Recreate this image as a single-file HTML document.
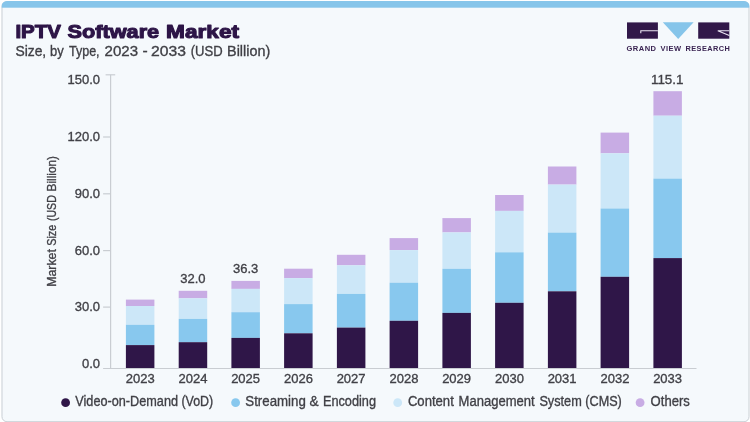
<!DOCTYPE html>
<html lang="en"><head><meta charset="utf-8"><title>IPTV Software Market</title>
<style>
html,body{margin:0;padding:0;background:#fff;}
body{width:750px;height:422px;overflow:hidden;font-family:"Liberation Sans",sans-serif;}
svg{display:block;}
text{font-family:"Liberation Sans",sans-serif;}
</style></head><body>
<svg width="750" height="422" viewBox="0 0 750 422">
<defs><clipPath id="card"><rect x="1.5" y="1" width="748" height="421.2" rx="5.5" ry="5.5"/></clipPath></defs>
<rect x="1.5" y="1" width="748" height="421.2" rx="5.5" ry="5.5" fill="#f5f9fc"/>
<rect x="2" y="1.5" width="747" height="420.2" rx="5" ry="5" fill="none" stroke="#cbd0d5" stroke-width="1"/>
<rect x="1.5" y="1" width="748" height="6.7" fill="#86c5ea" clip-path="url(#card)"/>
<text y="37.9" font-size="19" font-weight="700" fill="#2d1547" stroke="#2d1547" stroke-width="1.1" stroke-linejoin="round"><tspan x="15.4" textLength="45.5" lengthAdjust="spacingAndGlyphs">IPTV</tspan> <tspan x="67.6" textLength="91.6" lengthAdjust="spacingAndGlyphs">Software</tspan> <tspan x="166.1" textLength="73.0" lengthAdjust="spacingAndGlyphs">Market</tspan> </text>
<text y="56.1" font-size="14.2" fill="#404046" stroke="#404046" stroke-width="0.33"><tspan x="15.4" textLength="30.8" lengthAdjust="spacingAndGlyphs">Size,</tspan> <tspan x="50.1" textLength="13.7" lengthAdjust="spacingAndGlyphs">by</tspan> <tspan x="69.0" textLength="30.6" lengthAdjust="spacingAndGlyphs">Type,</tspan> <tspan x="104.6" textLength="33.4" lengthAdjust="spacingAndGlyphs">2023</tspan> <tspan x="142.6" textLength="5.2" lengthAdjust="spacingAndGlyphs">-</tspan> <tspan x="151.0" textLength="34.9" lengthAdjust="spacingAndGlyphs">2033</tspan> <tspan x="190.7" textLength="31.9" lengthAdjust="spacingAndGlyphs">(USD</tspan> <tspan x="227.1" textLength="43.1" lengthAdjust="spacingAndGlyphs">Billion)</tspan> </text>
<g>
<rect x="627" y="22.4" width="30.9" height="16.3" fill="#311849"/>
<path d="M640.8 33.2 V30.8 H657.9" fill="none" stroke="#ece6f3" stroke-width="1.1"/>
<path d="M662.8 22.3 H693.6 L678.2 39 Z" fill="#86c5ea"/>
<rect x="698.2" y="22.4" width="31.1" height="16.3" fill="#311849"/>
<path d="M729.3 30.8 H717.8 L729.3 35.4" fill="none" stroke="#ece6f3" stroke-width="1.1"/>
<text y="50.6" font-size="6.5" font-weight="700" fill="#3a2452" letter-spacing="0.4"><tspan x="626.5" textLength="30" lengthAdjust="spacingAndGlyphs">GRAND</tspan> <tspan x="660.6" textLength="21" lengthAdjust="spacingAndGlyphs">VIEW</tspan> <tspan x="685.4" textLength="45" lengthAdjust="spacingAndGlyphs">RESEARCH</tspan></text>
</g>
<g stroke="#c9cdd2" stroke-width="1.2" fill="none">
<path d="M110.6 74.8 V368.5"/>
<path d="M105.6 74.8 H115.2"/>
<path d="M103.1 368.5 H696.5"/>
<path d="M103.1 137.0 H110.6"/>
<path d="M103.1 193.8 H110.6"/>
<path d="M103.1 250.6 H110.6"/>
<path d="M103.1 307.1 H110.6"/>
</g>
<text x="100.1" y="83.7" font-size="13" fill="#404046" stroke="#404046" stroke-width="0.33" text-anchor="end">150.0</text>
<text x="100.1" y="141.1" font-size="13" fill="#404046" stroke="#404046" stroke-width="0.33" text-anchor="end">120.0</text>
<text x="100.1" y="198.0" font-size="13" fill="#404046" stroke="#404046" stroke-width="0.33" text-anchor="end">90.0</text>
<text x="100.1" y="254.8" font-size="13" fill="#404046" stroke="#404046" stroke-width="0.33" text-anchor="end">60.0</text>
<text x="100.1" y="311.3" font-size="13" fill="#404046" stroke="#404046" stroke-width="0.33" text-anchor="end">30.0</text>
<text x="100.1" y="368.3" font-size="13" fill="#404046" stroke="#404046" stroke-width="0.33" text-anchor="end">0.0</text>
<text transform="translate(55.9 0) rotate(-90)" font-size="12.4" fill="#404046" stroke="#404046" stroke-width="0.33"><tspan x="-286.8" y="0" textLength="37.7" lengthAdjust="spacingAndGlyphs">Market</tspan> <tspan x="-245.8" y="0" textLength="21.1" lengthAdjust="spacingAndGlyphs">Size</tspan> <tspan x="-221.1" y="0" textLength="25.9" lengthAdjust="spacingAndGlyphs">(USD</tspan> <tspan x="-191.5" y="0" textLength="35.5" lengthAdjust="spacingAndGlyphs">Billion)</tspan> </text>
<rect x="125.9" y="299.6" width="28.5" height="6.4" fill="#c8ace4"/><rect x="125.9" y="306.0" width="28.5" height="18.8" fill="#cce7f8"/><rect x="125.9" y="324.8" width="28.5" height="20.3" fill="#88c8ee"/><rect x="125.9" y="345.1" width="28.5" height="22.9" fill="#2f1648"/>
<text x="140.2" y="383.3" font-size="13" fill="#404046" stroke="#404046" stroke-width="0.33" text-anchor="middle">2023</text>
<rect x="178.7" y="290.8" width="28.5" height="7.5" fill="#c8ace4"/><rect x="178.7" y="298.3" width="28.5" height="20.6" fill="#cce7f8"/><rect x="178.7" y="318.9" width="28.5" height="23.3" fill="#88c8ee"/><rect x="178.7" y="342.2" width="28.5" height="25.8" fill="#2f1648"/>
<text x="192.9" y="383.3" font-size="13" fill="#404046" stroke="#404046" stroke-width="0.33" text-anchor="middle">2024</text>
<rect x="231.4" y="280.9" width="28.5" height="8.0" fill="#c8ace4"/><rect x="231.4" y="288.9" width="28.5" height="23.3" fill="#cce7f8"/><rect x="231.4" y="312.2" width="28.5" height="25.7" fill="#88c8ee"/><rect x="231.4" y="337.9" width="28.5" height="30.1" fill="#2f1648"/>
<text x="245.6" y="383.3" font-size="13" fill="#404046" stroke="#404046" stroke-width="0.33" text-anchor="middle">2025</text>
<rect x="284.1" y="268.7" width="28.5" height="9.4" fill="#c8ace4"/><rect x="284.1" y="278.1" width="28.5" height="26.0" fill="#cce7f8"/><rect x="284.1" y="304.1" width="28.5" height="29.2" fill="#88c8ee"/><rect x="284.1" y="333.3" width="28.5" height="34.7" fill="#2f1648"/>
<text x="298.4" y="383.3" font-size="13" fill="#404046" stroke="#404046" stroke-width="0.33" text-anchor="middle">2026</text>
<rect x="336.9" y="254.8" width="28.5" height="10.5" fill="#c8ace4"/><rect x="336.9" y="265.3" width="28.5" height="28.6" fill="#cce7f8"/><rect x="336.9" y="293.9" width="28.5" height="33.7" fill="#88c8ee"/><rect x="336.9" y="327.6" width="28.5" height="40.4" fill="#2f1648"/>
<text x="351.1" y="383.3" font-size="13" fill="#404046" stroke="#404046" stroke-width="0.33" text-anchor="middle">2027</text>
<rect x="389.6" y="238.1" width="28.5" height="12.0" fill="#c8ace4"/><rect x="389.6" y="250.1" width="28.5" height="32.6" fill="#cce7f8"/><rect x="389.6" y="282.7" width="28.5" height="38.1" fill="#88c8ee"/><rect x="389.6" y="320.8" width="28.5" height="47.2" fill="#2f1648"/>
<text x="403.9" y="383.3" font-size="13" fill="#404046" stroke="#404046" stroke-width="0.33" text-anchor="middle">2028</text>
<rect x="442.4" y="218.1" width="28.5" height="14.3" fill="#c8ace4"/><rect x="442.4" y="232.4" width="28.5" height="36.4" fill="#cce7f8"/><rect x="442.4" y="268.8" width="28.5" height="44.1" fill="#88c8ee"/><rect x="442.4" y="312.9" width="28.5" height="55.1" fill="#2f1648"/>
<text x="456.6" y="383.3" font-size="13" fill="#404046" stroke="#404046" stroke-width="0.33" text-anchor="middle">2029</text>
<rect x="495.1" y="195.0" width="28.5" height="15.9" fill="#c8ace4"/><rect x="495.1" y="210.9" width="28.5" height="41.4" fill="#cce7f8"/><rect x="495.1" y="252.3" width="28.5" height="50.5" fill="#88c8ee"/><rect x="495.1" y="302.8" width="28.5" height="65.2" fill="#2f1648"/>
<text x="509.4" y="383.3" font-size="13" fill="#404046" stroke="#404046" stroke-width="0.33" text-anchor="middle">2030</text>
<rect x="547.9" y="166.5" width="28.5" height="18.1" fill="#c8ace4"/><rect x="547.9" y="184.6" width="28.5" height="48.0" fill="#cce7f8"/><rect x="547.9" y="232.6" width="28.5" height="58.7" fill="#88c8ee"/><rect x="547.9" y="291.3" width="28.5" height="76.7" fill="#2f1648"/>
<text x="562.1" y="383.3" font-size="13" fill="#404046" stroke="#404046" stroke-width="0.33" text-anchor="middle">2031</text>
<rect x="600.6" y="132.6" width="28.5" height="20.7" fill="#c8ace4"/><rect x="600.6" y="153.3" width="28.5" height="55.2" fill="#cce7f8"/><rect x="600.6" y="208.5" width="28.5" height="68.3" fill="#88c8ee"/><rect x="600.6" y="276.8" width="28.5" height="91.2" fill="#2f1648"/>
<text x="614.9" y="383.3" font-size="13" fill="#404046" stroke="#404046" stroke-width="0.33" text-anchor="middle">2032</text>
<rect x="653.4" y="91.2" width="28.5" height="24.5" fill="#c8ace4"/><rect x="653.4" y="115.7" width="28.5" height="62.9" fill="#cce7f8"/><rect x="653.4" y="178.6" width="28.5" height="79.5" fill="#88c8ee"/><rect x="653.4" y="258.1" width="28.5" height="109.9" fill="#2f1648"/>
<text x="667.6" y="383.3" font-size="13" fill="#404046" stroke="#404046" stroke-width="0.33" text-anchor="middle">2033</text>
<text x="192.9" y="283.3" font-size="13.5" fill="#404046" stroke="#404046" stroke-width="0.33" text-anchor="middle" textLength="25.3" lengthAdjust="spacingAndGlyphs">32.0</text>
<text x="245.6" y="273.0" font-size="13.5" fill="#404046" stroke="#404046" stroke-width="0.33" text-anchor="middle" textLength="25.3" lengthAdjust="spacingAndGlyphs">36.3</text>
<text x="667.2" y="83.5" font-size="13.5" fill="#404046" stroke="#404046" stroke-width="0.33" text-anchor="middle" textLength="32.5" lengthAdjust="spacingAndGlyphs">115.1</text>
<circle cx="65.6" cy="402.7" r="4.4" fill="#2f1648"/><text y="406.3" font-size="13.8" fill="#404046" stroke="#404046" stroke-width="0.33"><tspan x="75.3" textLength="102.7" lengthAdjust="spacingAndGlyphs">Video-on-Demand</tspan> <tspan x="181.4" textLength="31.8" lengthAdjust="spacingAndGlyphs">(VoD)</tspan> </text>
<circle cx="235.6" cy="402.7" r="4.4" fill="#88c8ee"/><text y="406.3" font-size="13.8" fill="#404046" stroke="#404046" stroke-width="0.33"><tspan x="245.3" textLength="60.5" lengthAdjust="spacingAndGlyphs">Streaming</tspan> <tspan x="309.5" textLength="9.1" lengthAdjust="spacingAndGlyphs">&amp;</tspan> <tspan x="322.9" textLength="53.1" lengthAdjust="spacingAndGlyphs">Encoding</tspan> </text>
<circle cx="397.7" cy="402.7" r="4.4" fill="#cce7f8"/><text y="406.3" font-size="13.8" fill="#404046" stroke="#404046" stroke-width="0.33"><tspan x="407.9" textLength="45.9" lengthAdjust="spacingAndGlyphs">Content</tspan> <tspan x="458.6" textLength="76.0" lengthAdjust="spacingAndGlyphs">Management</tspan> <tspan x="539.4" textLength="42.4" lengthAdjust="spacingAndGlyphs">System</tspan> <tspan x="585.3" textLength="36.5" lengthAdjust="spacingAndGlyphs">(CMS)</tspan> </text>
<circle cx="640.1" cy="402.7" r="4.4" fill="#c8ace4"/><text y="406.3" font-size="13.8" fill="#404046" stroke="#404046" stroke-width="0.33"><tspan x="650.6" textLength="39.2" lengthAdjust="spacingAndGlyphs">Others</tspan> </text>
</svg>
</body></html>
